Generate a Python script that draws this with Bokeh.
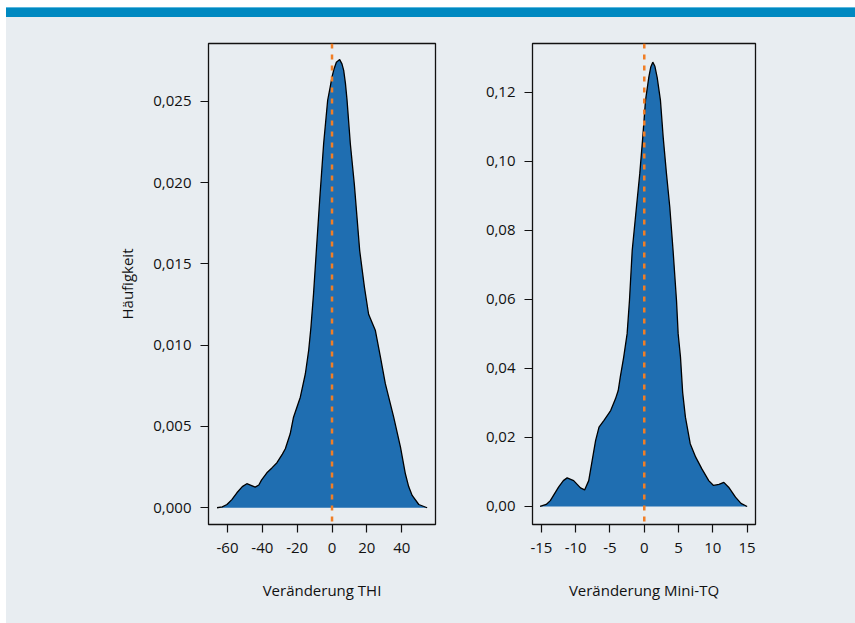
from bokeh.plotting import figure
from bokeh.models import Span, FixedTicker, Div
from bokeh.layouts import column, row
from bokeh.embed import file_html
from bokeh.resources import INLINE

# ---- data ----
thi_x = [-66.0, -63.0, -60.3, -57.5, -54.6, -51.5, -48.9, -46.5, -44.1, -42.0, -40.5, -37.4, -34.5,
         -31.6, -28.5, -26.8, -24.0, -22.1, -18.2, -15.3, -13.4, -12.1, -10.6, -9.0,
         -7.1, -4.8, -2.5, -1.0, 0.0, 1.2, 2.5, 4.4, 5.7, 6.7, 7.7, 8.6, 10.5, 12.8, 15.9, 18.6, 21.0,
         24.9, 27.8, 30.6, 35.4, 39.3, 42.1, 44.0, 46.0, 49.8, 54.6]
thi_y = [0.0, 0.00005, 0.0002, 0.0005, 0.00092, 0.0013, 0.00148, 0.00138, 0.00127, 0.0014, 0.0017, 0.00215, 0.00245,
         0.00277, 0.0033, 0.00363, 0.00455, 0.00557, 0.0068, 0.00824, 0.00968, 0.0111, 0.01317, 0.0158,
         0.0189, 0.0224, 0.02506, 0.0259, 0.0265, 0.0270, 0.0274, 0.02756, 0.0273, 0.0269, 0.0261, 0.0251, 0.0224,
         0.0199, 0.0158, 0.01357, 0.0119,
         0.0109, 0.00927, 0.00763, 0.00557, 0.00373, 0.00209, 0.0013, 0.00076, 0.0002, 0.0]

mtq_x = [-15.2, -14.3, -13.7, -12.5, -11.8, -11.25, -10.3, -9.3, -8.7, -8.1, -7.6, -7.1, -6.6, -5.9,
         -4.9, -4.2, -3.8, -3.5, -3.0, -2.5, -2.16, -1.76, -1.14, -0.66, -0.22, 0.18, 0.66, 0.95,
         1.24, 1.55, 1.88, 2.36, 2.76, 3.24, 3.72, 4.2, 4.7, 4.94, 5.28, 5.6, 6.0, 6.7, 7.5, 8.4,
         9.4, 10.1, 10.9, 11.6, 12.3, 13.3, 14.1, 15.0]
mtq_y = [0.0, 0.0006, 0.0017, 0.0056, 0.0075, 0.0083, 0.0075, 0.0054, 0.0048, 0.0075, 0.0133, 0.0191,
         0.0230, 0.0249, 0.0278, 0.0312, 0.0336, 0.0375, 0.0433, 0.0501, 0.0597, 0.0742, 0.0868, 0.0964,
         0.1070, 0.1177, 0.1244, 0.1274, 0.1288, 0.1276, 0.1244, 0.1177, 0.1070, 0.0964, 0.0868, 0.0742,
         0.0597, 0.0501, 0.0433, 0.0330, 0.0259, 0.0182, 0.0143, 0.0109, 0.0075, 0.0061, 0.0064, 0.0070,
         0.0056, 0.0027, 0.0009, 0.0]

thi_xticks = [-60, -40, -20, 0, 20, 40]
thi_yticks = [0.0, 0.005, 0.010, 0.015, 0.020, 0.025]
thi_ylabels = ["0,000", "0,005", "0,010", "0,015", "0,020", "0,025"]
mtq_xticks = [-15, -10, -5, 0, 5, 10, 15]
mtq_yticks = [0.0, 0.02, 0.04, 0.06, 0.08, 0.10, 0.12]
mtq_ylabels = ["0,00", "0,02", "0,04", "0,06", "0,08", "0,10", "0,12"]
ref_lines = [0.0, 0.0]

BG = "#e8edf1"
FILL = "#1f6eb1"
ORANGE = "#f07e26"
FONT = "Open Sans"
TXT = "#111111"


def panel(xs, ys, xr, yr, xticks, yticks, ylabels, xlabel, ylabel, ref,
          width, bl, br):
    p = figure(width=width, height=606, x_range=xr, y_range=yr,
               output_backend="svg", toolbar_location=None,
               min_border_left=bl, min_border_right=br,
               min_border_top=26, min_border_bottom=99, margin=0)
    p.background_fill_color = BG
    p.border_fill_color = BG
    p.outline_line_color = "#111111"
    p.outline_line_width = 1.3
    p.grid.visible = False
    p.varea(x=xs, y1=[0] * len(xs), y2=ys, fill_color=FILL)
    p.line(xs, ys, line_color="black", line_width=1.3)
    p.add_layout(Span(location=ref, dimension="height", line_color=ORANGE,
                      line_width=2.5, line_dash="5 6"))
    for ax in (p.xaxis[0], p.yaxis[0]):
        ax.axis_line_color = None
        ax.major_tick_line_color = "#111111"
        ax.major_tick_line_width = 1.2
        ax.major_tick_in = 0
        ax.major_tick_out = 8
        ax.minor_tick_line_color = None
        ax.major_label_text_font = FONT
        ax.major_label_text_font_size = "15px"
        ax.major_label_text_color = TXT
        ax.axis_label_text_font = FONT
        ax.axis_label_text_font_size = "15px"
        ax.axis_label_text_font_style = "normal"
        ax.axis_label_text_color = TXT
    p.xaxis.ticker = FixedTicker(ticks=xticks)
    p.yaxis.ticker = FixedTicker(ticks=yticks)
    p.yaxis.major_label_overrides = {t: l for t, l in zip(yticks, ylabels)}
    p.xaxis.major_label_overrides = {t: str(t) for t in xticks}
    p.xaxis.axis_label = xlabel
    p.xaxis.major_label_standoff = 10
    p.xaxis.axis_label_standoff = 24
    p.yaxis.major_label_standoff = 9
    if ylabel:
        p.yaxis.axis_label = ylabel
        p.yaxis.axis_label_standoff = 13
    return p


p1 = panel(thi_x, thi_y, (-70.9, 59.4), (-0.00103, 0.02855), thi_xticks, thi_yticks,
           thi_ylabels, "Veränderung THI", "Häufigkeit", ref_lines[0], 464, 202, 35)
p2 = panel(mtq_x, mtq_y, (-16.3, 16.22), (-0.00522, 0.1342), mtq_xticks, mtq_yticks,
           mtq_ylabels, "Veränderung Mini-TQ", None, ref_lines[1], 385, 62, 100)

band = Div(text="", width=855, height=17, margin=0,
           styles={"background": "linear-gradient(#5ab7de 0px, #5ab7de 1px, #0089c1 1px)",
                   "border-top": "7px solid #ffffff", "border-left": "6px solid #ffffff",
                   "box-sizing": "border-box"})
edge = Div(text="", width=6, height=606, margin=0, styles={"background-color": "#ffffff"})

layout = column(band, row(edge, p1, p2, spacing=0, margin=0, styles={"background-color": BG}),
                spacing=0, margin=0)

open("out.html", "w").write(file_html(layout, INLINE))
